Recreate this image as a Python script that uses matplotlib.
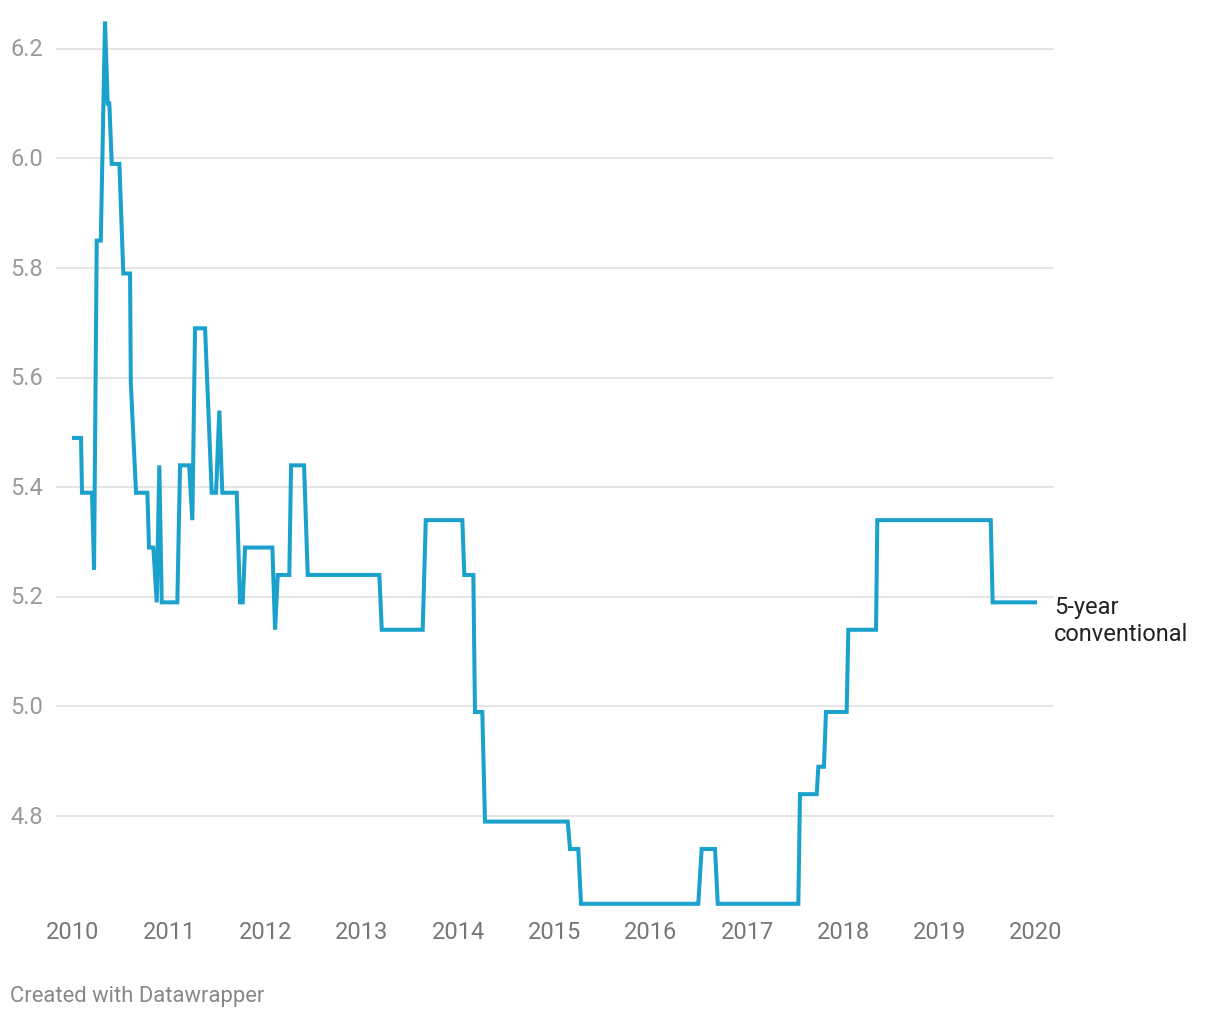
import matplotlib
matplotlib.use("Agg")
import matplotlib.pyplot as plt

# Decimal year and 5-year conventional mortgage rate (%)
years = [2010.010, 2010.083, 2010.093, 2010.197, 2010.218, 2010.246, 2010.288, 2010.332,
         2010.360, 2010.377, 2010.402, 2010.481, 2010.522, 2010.592, 2010.600, 2010.654,
         2010.772, 2010.789, 2010.834, 2010.869, 2010.896, 2010.921, 2011.083, 2011.111,
         2011.205, 2011.239, 2011.267, 2011.371, 2011.440, 2011.485, 2011.519, 2011.550,
         2011.700, 2011.734, 2011.762, 2011.786, 2012.070, 2012.098, 2012.126, 2012.246,
         2012.264, 2012.399, 2012.437, 2013.181, 2013.206, 2013.631, 2013.663, 2014.043,
         2014.063, 2014.157, 2014.174, 2014.250, 2014.278, 2015.137, 2015.161, 2015.247,
         2015.275, 2016.493, 2016.528, 2016.667, 2016.695, 2017.532, 2017.549, 2017.723,
         2017.740, 2017.798, 2017.819, 2018.034, 2018.051, 2018.339, 2018.352, 2019.530,
         2019.550, 2019.990]
rates = [5.49, 5.49, 5.39, 5.39, 5.25, 5.85, 5.85, 6.25,
         6.10, 6.10, 5.99, 5.99, 5.79, 5.79, 5.59, 5.39,
         5.39, 5.29, 5.29, 5.19, 5.44, 5.19, 5.19, 5.44,
         5.44, 5.34, 5.69, 5.69, 5.39, 5.39, 5.54, 5.39,
         5.39, 5.19, 5.19, 5.29, 5.29, 5.14, 5.24, 5.24,
         5.44, 5.44, 5.24, 5.24, 5.14, 5.14, 5.34, 5.34,
         5.24, 5.24, 4.99, 4.99, 4.79, 4.79, 4.74, 4.74,
         4.64, 4.64, 4.74, 4.74, 4.64, 4.64, 4.84, 4.84,
         4.89, 4.89, 4.99, 4.99, 5.14, 5.14, 5.34, 5.34,
         5.19, 5.19]

y_ticks = [4.8, 5.0, 5.2, 5.4, 5.6, 5.8, 6.0, 6.2]
x_ticks = list(range(2010, 2021))
series_label = "5-year\nconventional"
credit = "Created with Datawrapper"

plt.rcParams['font.family'] = ['Roboto', 'DejaVu Sans']

W, H = 1220, 1020
fig = plt.figure(figsize=(W / 100, H / 100), dpi=100)
# axes pixel box: left 56, right 1054, top 15, bottom 910
ax = fig.add_axes([56 / W, 1 - 910 / H, (1054 - 56) / W, (910 - 15) / H])
ax.set_xlim(2009.823, 2020.187)
ax.set_ylim(4.6305, 6.2635)

for v in y_ticks:
    ax.axhline(v, color='#e3e3e3', lw=1.3, zorder=1)

ax.plot(years, rates, color='#1aa1cc', lw=2.9, solid_joinstyle='miter', zorder=3)

for s in ax.spines.values():
    s.set_visible(False)
ax.set_yticks([])
ax.set_xticks(x_ticks)
ax.set_xticklabels([str(x) for x in x_ticks], fontsize=17, color='#777777')
ax.tick_params(axis='x', length=0, pad=8)

for v in y_ticks:
    ax.annotate(f"{v:.1f}", xy=(0, v), xycoords=('figure fraction', 'data'),
                xytext=(10, 0), textcoords='offset pixels',
                ha='left', va='center', fontsize=17, color='#9a9a9a')

ax.annotate(series_label, xy=(years[-1], rates[-1]), xycoords='data',
            xytext=(19, 7), textcoords='offset pixels',
            ha='left', va='top', fontsize=17, color='#222222',
            linespacing=1.2, annotation_clip=False)

fig.text(10 / W, 1 - 997 / H, credit, ha='left', va='center', fontsize=15.8, color='#888888')

fig.savefig('out.png', dpi=100)
